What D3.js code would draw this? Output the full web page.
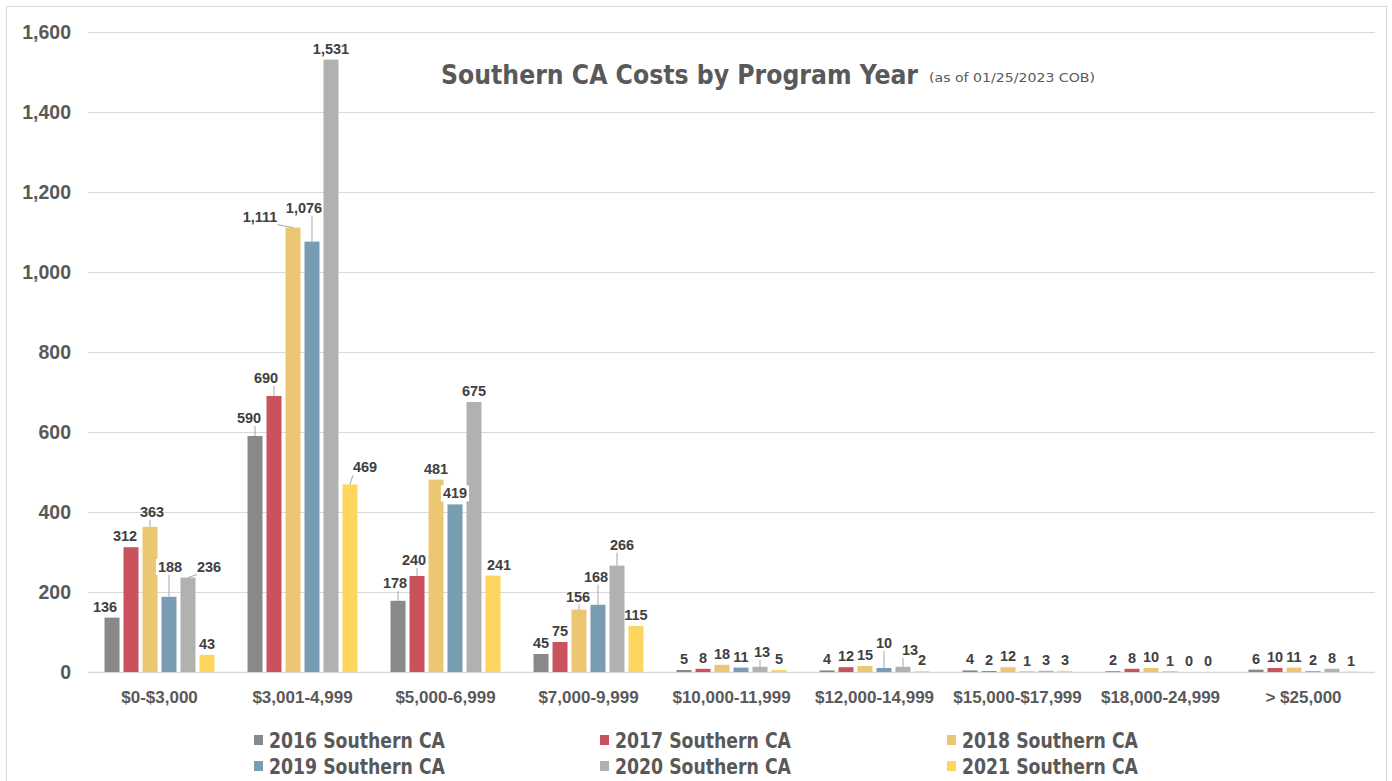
<!DOCTYPE html>
<html>
<head>
<meta charset="utf-8">
<script src="https://cdn.jsdelivr.net/npm/d3@7"></script>
<style>
  body { margin: 0; background: #fff; }
  svg { display: block; }
  .cond { font-family: "Liberation Sans Narrow", "DejaVu Sans Condensed", "Roboto Condensed", sans-serif; font-stretch: condensed; }
</style>
</head>
<body>
<div id="chart"></div>
<script>
const categories = ["$0-$3,000", "$3,001-4,999", "$5,000-6,999", "$7,000-9,999",
  "$10,000-11,999", "$12,000-14,999", "$15,000-$17,999", "$18,000-24,999", "> $25,000"];
const seriesNames = ["2016 Southern CA", "2017 Southern CA", "2018 Southern CA",
  "2019 Southern CA", "2020 Southern CA", "2021 Southern CA"];
const values2016 = [136, 590, 178, 45, 5, 4, 4, 2, 6];
const values2017 = [312, 690, 240, 75, 8, 12, 2, 8, 10];
const values2018 = [363, 1111, 481, 156, 18, 15, 12, 10, 11];
const values2019 = [188, 1076, 419, 168, 11, 10, 1, 1, 2];
const values2020 = [236, 1531, 675, 266, 13, 13, 3, 0, 8];
const values2021 = [43, 469, 241, 115, 5, 2, 3, 0, 1];
const yTicks = [0, 200, 400, 600, 800, 1000, 1200, 1400, 1600];
const colors = ["#898989", "#C9525C", "#EBC673", "#789CB1", "#B1B1B1", "#FDD65F"];

// nudges for data labels that were dragged off their bars, [dx, dy], key "series|category"
const labelNudge = {
  "0|0": [-7, 0], "1|0": [-6, 0], "2|0": [2, -4], "3|0": [1, -19], "4|0": [21, 0],
  "0|1": [-6, -7], "1|1": [-8, -7], "2|1": [-33, 0], "3|1": [-8, -23], "5|1": [15, -6],
  "0|2": [-3, -7], "1|2": [-3, -5], "5|2": [6, 0],
  "2|3": [-1, -2], "3|3": [-2, -17], "4|3": [5, -10],
  "4|4": [2, -4],
  "3|5": [0, -14], "4|5": [7, -6]
};
const whiteBox = { "3|0": true, "3|2": true };

const allSeries = [values2016, values2017, values2018, values2019, values2020, values2021];

const W = 1392, H = 781;
const plot = { left: 88, right: 1375, top: 32, bottom: 672 };

const svg = d3.select("#chart").append("svg")
  .attr("width", W).attr("height", H);

svg.append("rect")
  .attr("x", 6.5).attr("y", 6.5)
  .attr("width", 1380).attr("height", 790)
  .attr("fill", "#fff").attr("stroke", "#D9D9D9");

const x0 = d3.scaleBand().domain(categories).range([plot.left, plot.right]);
const x1 = d3.scaleBand().domain(d3.range(seriesNames.length))
  .range([0, x0.bandwidth()]).paddingInner(0.21).paddingOuter(0.87);
const y = d3.scaleLinear().domain([0, 1600]).range([plot.bottom, plot.top]);

// y axis + gridlines
const yAxis = svg.append("g")
  .attr("transform", `translate(${plot.left},0)`)
  .call(d3.axisLeft(y).tickValues(yTicks).tickFormat(d3.format(","))
    .tickSize(-(plot.right - plot.left)).tickPadding(17));
yAxis.select(".domain").remove();
yAxis.selectAll(".tick line").attr("stroke", "#D9D9D9");
yAxis.selectAll(".tick text")
  .attr("fill", "#595959")
  .style("font-family", "'Liberation Sans', Arial, sans-serif")
  .style("font-weight", "bold")
  .style("font-size", "19.5px");

// x axis
const xAxis = svg.append("g")
  .attr("transform", `translate(0,${plot.bottom})`)
  .call(d3.axisBottom(x0).tickSize(0).tickPadding(19));
xAxis.select(".domain").remove();
xAxis.selectAll(".tick text")
  .attr("fill", "#595959")
  .style("font-family", "'Liberation Sans', Arial, sans-serif")
  .style("font-weight", "bold")
  .style("font-size", "17px");

svg.append("line")
  .attr("x1", plot.left).attr("x2", plot.right)
  .attr("y1", plot.bottom + 0.5).attr("y2", plot.bottom + 0.5)
  .attr("stroke", "#D9D9D9").attr("stroke-width", 1.5);

// bars
const rows = [];
allSeries.forEach((vals, s) => {
  vals.forEach((v, c) => rows.push({ s, c, v }));
});

svg.append("g").selectAll("rect")
  .data(rows)
  .join("rect")
  .attr("x", d => x0(categories[d.c]) + x1(d.s))
  .attr("y", d => y(d.v))
  .attr("width", x1.bandwidth())
  .attr("height", d => y(0) - y(d.v))
  .attr("fill", d => colors[d.s]);

// data labels
const labelG = svg.append("g")
  .style("font-family", "'Liberation Sans', Arial, sans-serif")
  .style("font-weight", "bold")
  .style("font-size", "14.5px");

rows.forEach(d => {
  const key = d.s + "|" + d.c;
  const nudge = labelNudge[key] || [0, 0];
  const bx = x0(categories[d.c]) + x1(d.s) + x1.bandwidth() / 2;
  const by = y(d.v);
  const lx = bx + nudge[0];
  const ly = by - 6 + nudge[1];

  const t = labelG.append("text")
    .attr("x", lx).attr("y", ly)
    .attr("text-anchor", "middle")
    .attr("fill", "#404040")
    .text(d3.format(",")(d.v));
  const bb = t.node().getBBox();

  if (whiteBox[key]) {
    labelG.insert("rect", () => t.node())
      .attr("x", bb.x - 2).attr("y", bb.y)
      .attr("width", bb.width + 4).attr("height", bb.height)
      .attr("fill", "#fff");
  }

  if (labelNudge[key]) {
    // leader line from nearest label edge to bar top
    const px = Math.max(bb.x, Math.min(bx, bb.x + bb.width));
    const py = Math.max(bb.y, Math.min(by, bb.y + bb.height));
    const dist = Math.hypot(px - bx, py - by);
    if (dist > 5) {
      labelG.insert("line", () => t.node())
        .attr("x1", px).attr("y1", py)
        .attr("x2", bx).attr("y2", by)
        .attr("stroke", "#A6A6A6").attr("stroke-width", 1);
    }
  }
});

// title
svg.append("text")
  .attr("class", "cond")
  .attr("x", 441).attr("y", 84)
  .attr("fill", "#595959")
  .style("font-size", "26px").style("font-weight", "bold")
  .attr("textLength", 477).attr("lengthAdjust", "spacingAndGlyphs")
  .text("Southern CA Costs by Program Year");
svg.append("text")
  .attr("class", "cond")
  .attr("x", 929).attr("y", 82)
  .attr("fill", "#595959")
  .style("font-size", "13px")
  .attr("textLength", 166).attr("lengthAdjust", "spacingAndGlyphs")
  .text("(as of 01/25/2023 COB)");

// legend
const legendX = [254, 600, 947];
const legendY = [740, 766];
const legend = svg.append("g").selectAll("g")
  .data(seriesNames)
  .join("g")
  .attr("transform", (d, i) => `translate(${legendX[i % 3]},${legendY[Math.floor(i / 3)]})`);

legend.append("rect")
  .attr("x", 0).attr("y", -5)
  .attr("width", 9).attr("height", 10)
  .attr("fill", (d, i) => colors[i]);

legend.append("text")
  .attr("class", "cond")
  .attr("x", 15).attr("y", 7.5)
  .attr("fill", "#595959")
  .style("font-size", "21px").style("font-weight", "bold")
  .attr("textLength", 176).attr("lengthAdjust", "spacingAndGlyphs")
  .text(d => d);
</script>
</body>
</html>
